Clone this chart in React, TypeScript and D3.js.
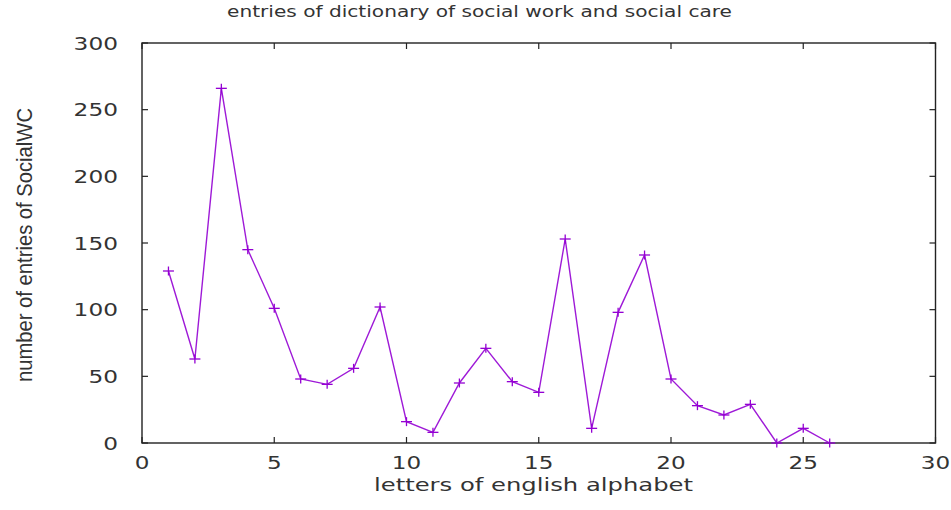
import React from "react";
import * as d3 from "d3";

const letters = [1, 2, 3, 4, 5, 6, 7, 8, 9, 10, 11, 12, 13, 14, 15, 16, 17, 18, 19, 20, 21, 22, 23, 24, 25, 26];
const entries = [129, 63, 266, 145, 101, 48, 44, 56, 102, 16, 8, 45, 71, 46, 38, 153, 11, 98, 141, 48, 28, 21, 29, 0, 11, 0];
const xTicks = [0, 5, 10, 15, 20, 25, 30];
const yTicks = [0, 50, 100, 150, 200, 250, 300];
const title = "entries of dictionary of social work and social care";
const xLabel = "letters of english alphabet";
const yLabel = "number of entries of SocialWC";

const W = 951;
const H = 510;
const L = 142, R = 935.5, T = 43, B = 443;
const color = "#9400D3";
const axisColor = "#222";
const textColor = "#333";
const font = "'DejaVu Sans', Verdana, sans-serif";

export default function App() {
  const x = d3.scaleLinear().domain([0, 30]).range([L, R]);
  const y = d3.scaleLinear().domain([0, 300]).range([B, T]);
  const pts = letters.map((l, i) => [x(l), y(entries[i])] as [number, number]);
  const line = d3.line()(pts) || "";
  const tickLen = 6;
  return (
    <svg width={W} height={H} style={{ position: "absolute", left: 0, top: 0, background: "#fff" }}>
      <rect x={0} y={0} width={W} height={H} fill="#fff" />
      {xTicks.map((t) => (
        <g key={"xt" + t}>
          <line x1={x(t)} x2={x(t)} y1={B} y2={B - tickLen} stroke={axisColor} strokeWidth={1.2} />
          <line x1={x(t)} x2={x(t)} y1={T} y2={T + tickLen} stroke={axisColor} strokeWidth={1.2} />
          <text x={x(t)} y={468.5} fontFamily={font} fontSize={17} fill={textColor} textAnchor="middle"
            textLength={String(t).length * 14.7} lengthAdjust="spacingAndGlyphs">{t}</text>
        </g>
      ))}
      {yTicks.map((t) => (
        <g key={"yt" + t}>
          <line x1={L} x2={L + tickLen} y1={y(t)} y2={y(t)} stroke={axisColor} strokeWidth={1.2} />
          <line x1={R} x2={R - tickLen} y1={y(t)} y2={y(t)} stroke={axisColor} strokeWidth={1.2} />
          <text x={118} y={y(t) + 6.5} fontFamily={font} fontSize={18} fill={textColor} textAnchor="end"
            textLength={String(t).length * 14.8} lengthAdjust="spacingAndGlyphs">{t}</text>
        </g>
      ))}
      <rect x={L} y={T} width={R - L} height={B - T} fill="none" stroke={axisColor} strokeWidth={1.4} />
      <path d={line} fill="none" stroke={color} strokeWidth={1.4} strokeLinejoin="miter" strokeOpacity={0.9} />
      {pts.map(([px, py], i) => (
        <g key={"m" + i} stroke={color} strokeWidth={1.3}>
          <line x1={px - 5.5} x2={px + 5.5} y1={py} y2={py} />
          <line x1={px} x2={px} y1={py - 4.5} y2={py + 4.5} />
        </g>
      ))}
      <text x={479.5} y={17} fontFamily={font} fontSize={16.5} fill={textColor} textAnchor="middle"
        textLength={505} lengthAdjust="spacingAndGlyphs">{title}</text>
      <text x={533.5} y={491} fontFamily={font} fontSize={17} fill={textColor} textAnchor="middle"
        textLength={319} lengthAdjust="spacingAndGlyphs">{xLabel}</text>
      <text transform="translate(32,245) rotate(-90)" fontFamily="'Liberation Sans Narrow', 'Liberation Sans', Arial, sans-serif"
        fontSize={22} fill={textColor} textAnchor="middle" textLength={274} lengthAdjust="spacingAndGlyphs">{yLabel}</text>
    </svg>
  );
}
